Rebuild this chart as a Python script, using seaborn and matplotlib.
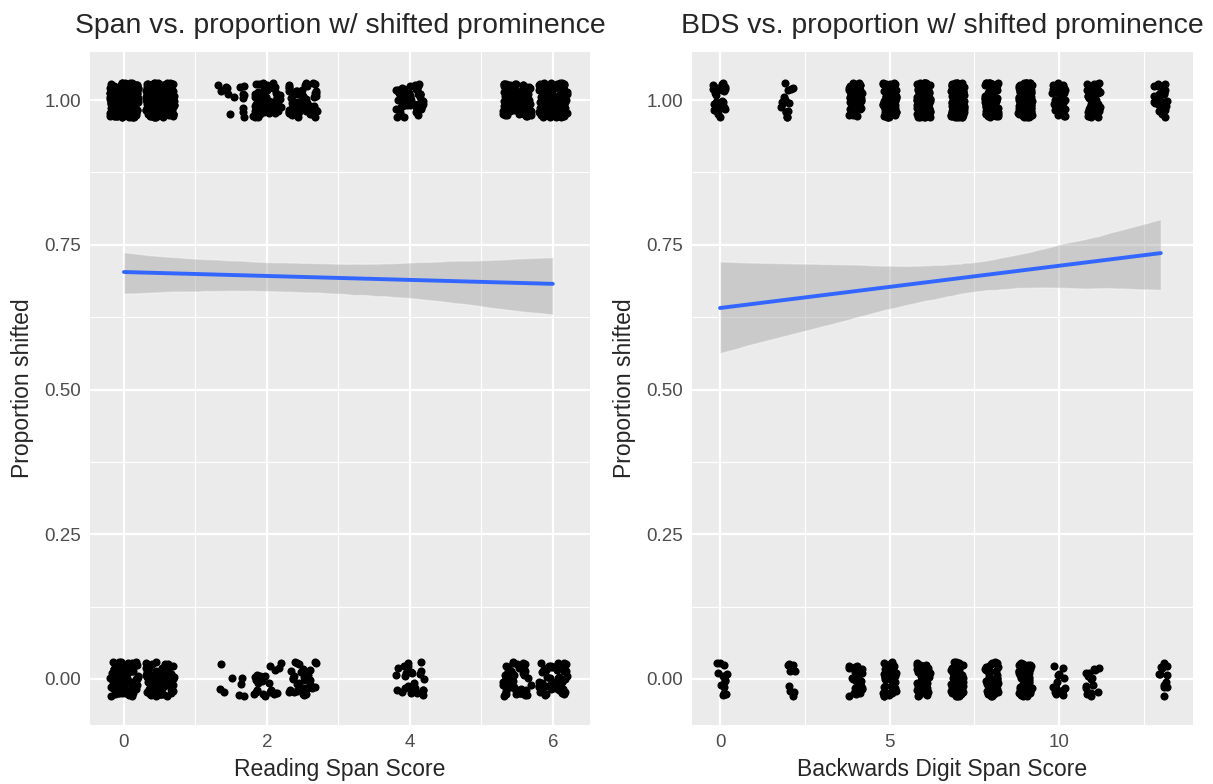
import numpy as np
import pandas as pd
import seaborn as sns
import matplotlib.pyplot as plt
from matplotlib.collections import PathCollection
from matplotlib.ticker import MultipleLocator, FormatStrFormatter

# Reading span score levels, with number of trials shifted (1) / not shifted (0)
span_scores = [0, 0.5, 1.5, 2, 2.5, 4, 5.5, 6]
span_shifted = [232, 190, 16, 56, 69, 55, 103, 116]
span_unshifted = [98, 80, 8, 24, 31, 25, 47, 54]

# Backwards digit span score levels
bds_scores = [0, 2, 4, 5, 6, 7, 8, 9, 10, 11, 13]
bds_shifted = [26, 16, 54, 88, 109, 152, 119, 141, 36, 40, 33]
bds_unshifted = [14, 9, 26, 42, 51, 68, 51, 59, 14, 15, 12]


def trials(scores, shifted, unshifted):
    x = np.concatenate([np.repeat(scores, shifted), np.repeat(scores, unshifted)])
    y = np.concatenate([np.ones(sum(shifted)), np.zeros(sum(unshifted))])
    return pd.DataFrame({'score': x, 'shifted': y})


span_df = trials(span_scores, span_shifted, span_unshifted)
bds_df = trials(bds_scores, bds_shifted, bds_unshifted)

sns.set_style('darkgrid', {'axes.facecolor': '#EBEBEB', 'grid.color': 'white'})
plt.rcParams['font.family'] = ['Liberation Sans', 'DejaVu Sans']

np.random.seed(7)  # jitter only
fig = plt.figure(figsize=(12.13, 7.84), dpi=100)
ax1 = fig.add_axes([90 / 1213, 59 / 784, 500 / 1213, 673 / 784])
ax2 = fig.add_axes([692 / 1213, 59 / 784, 501 / 1213, 673 / 784])

panels = [
    (ax1, span_df, 'Span vs. proportion w/ shifted prominence', 'Reading Span Score',
     (-0.475, 6.52), 2, 1),
    (ax2, bds_df, 'BDS vs. proportion w/ shifted prominence', 'Backwards Digit Span Score',
     (-0.826, 13.95), 5, 2.5),
]

for ax, df, title, xlabel, xlim, major, minor in panels:
    sns.regplot(data=df, x='score', y='shifted', ax=ax, x_jitter=0.2, y_jitter=0.03,
                color='black', ci=95, seed=1,
                scatter_kws={'s': 34, 'alpha': 1, 'linewidths': 0},
                line_kws={'color': '#3366FF', 'lw': 2.8})
    # grey confidence band like geom_smooth
    for c in ax.collections:
        if not isinstance(c, PathCollection):
            c.set_facecolor('#999999')
            c.set_alpha(0.4)
    ax.set_xlim(*xlim)
    ax.set_ylim(-0.0795, 1.083)
    ax.xaxis.set_major_locator(MultipleLocator(major))
    ax.xaxis.set_minor_locator(MultipleLocator(minor))
    ax.yaxis.set_major_locator(MultipleLocator(0.25))
    ax.yaxis.set_minor_locator(MultipleLocator(0.125))
    ax.yaxis.set_major_formatter(FormatStrFormatter('%.2f'))
    ax.grid(which='major', color='white', lw=1.6)
    ax.grid(which='minor', color='white', lw=0.8)
    ax.tick_params(which='major', length=3.6, width=1.1, color='#333333',
                   labelcolor='#4D4D4D', labelsize=13.5, pad=3)
    ax.tick_params(which='minor', length=0)
    for s in ax.spines.values():
        s.set_visible(False)
    ax.set_title(title, fontsize=20.4, pad=14)
    ax.set_xlabel(xlabel, fontsize=16.5, labelpad=5)
    ax.set_ylabel('Proportion shifted', fontsize=16.5, labelpad=7)

fig.savefig('out.png', dpi=100)
